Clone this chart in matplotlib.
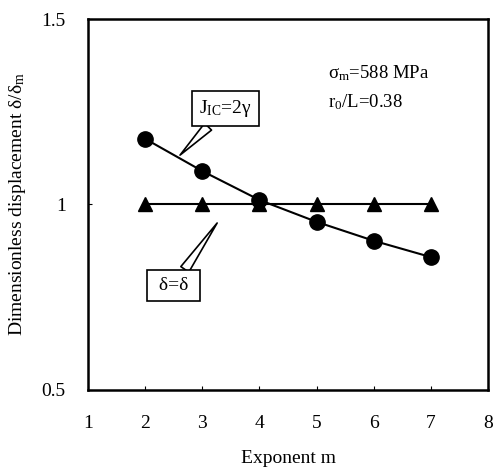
import matplotlib
matplotlib.use("Agg")
import numpy as np
from matplotlib import pyplot as plt

plt.rcParams['font.family'] = ['Liberation Serif', 'DejaVu Serif']
plt.rcParams['mathtext.fontset'] = 'custom'
plt.rcParams['mathtext.rm'] = 'Liberation Serif'
plt.rcParams['mathtext.it'] = 'Liberation Serif'

#############################################################
# Data
#############################################################
m = [2, 3, 4, 5, 6, 7]
jic = [1.177, 1.090, 1.012, 0.953, 0.902, 0.858]
delta = [1.0, 1.0, 1.0, 1.0, 1.0, 1.0]

#############################################################
# Plot
#############################################################
fig = plt.figure(figsize=(4.93, 4.76), dpi=100)
ax = fig.add_axes([0.1785, 0.181, 0.8115, 0.779])

ax.plot(m, delta, 'k-', lw=1.5, marker='^', ms=10, zorder=3)
ax.plot(m, jic, 'k-', lw=1.5, marker='o', ms=11, zorder=4)

ax.set_xlim(1, 8)
ax.set_ylim(0.5, 1.5)
ax.set_xticks(range(1, 9))
ax.set_yticks([0.5, 1.0, 1.5])
ax.set_yticklabels(['0.5', '1', '1.5'])
ax.tick_params(direction='in', length=3, width=0.8, labelsize=14)
ax.tick_params(axis='x', pad=18)
ax.tick_params(axis='y', pad=16)
for s in ax.spines.values():
    s.set_linewidth(1.8)

ax.set_xlabel('Exponent m', fontsize=14, labelpad=13)
ax.set_ylabel(r'Dimensionless displacement δ/δ$_{\rm m}$', fontsize=14, labelpad=10)

ax.text(5.2, 1.355, r'σ$_{\rm m}$=588 MPa', fontsize=13.5, va='center')
ax.text(5.2, 1.275, r'r$_{\rm 0}$/L=0.38', fontsize=13.5, va='center')

box = dict(boxstyle='square,pad=0.35', fc='white', ec='black', lw=1.2)
ax.annotate(r'J$_{\rm IC}$=2γ ', xy=(2.61, 1.133), xytext=(3.41, 1.258),
            fontsize=14, ha='center', va='center', bbox=box,
            arrowprops=dict(arrowstyle='wedge,tail_width=0.5', fc='white',
                            ec='black', lw=1.2, shrinkA=0, shrinkB=0))
ax.annotate(' δ=δ ', xy=(3.26, 0.950), xytext=(2.50, 0.782),
            fontsize=14, ha='center', va='center', bbox=box,
            arrowprops=dict(arrowstyle='wedge,tail_width=0.5', fc='white',
                            ec='black', lw=1.2, shrinkA=0, shrinkB=0))

fig.savefig('out.png', dpi=100)
